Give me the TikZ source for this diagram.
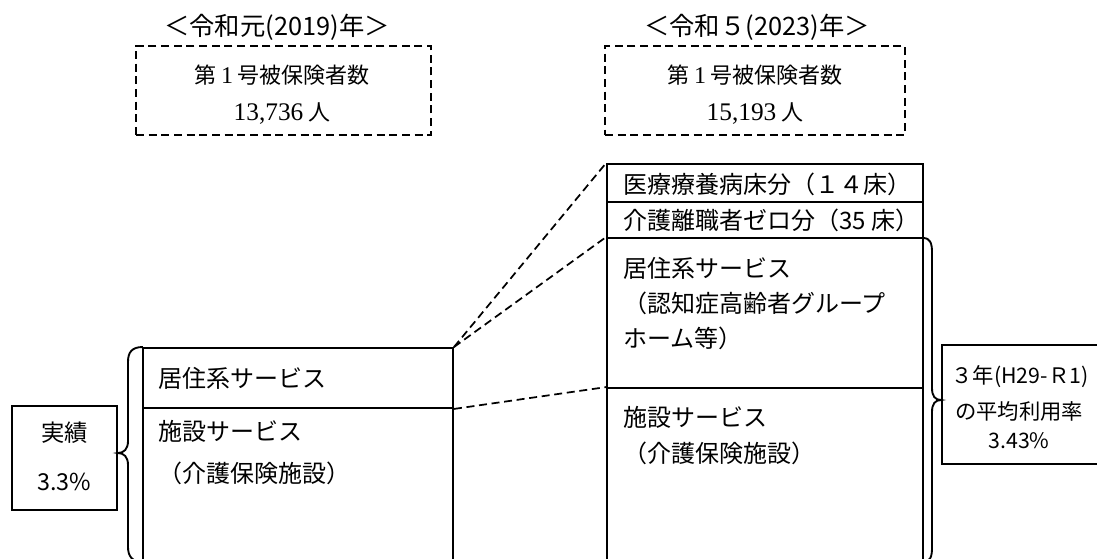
\documentclass[tikz,border=0pt]{standalone}
\usepackage{fontspec}
\setmainfont{Noto Sans CJK JP}
\newfontfamily\serifnum{Liberation Serif}
\usetikzlibrary{fit}
\begin{document}
\begin{tikzpicture}[x=0.75pt,y=-0.75pt,
  box/.style={draw, line width=1.4pt, inner sep=0pt},
  dbox/.style={draw, dash pattern=on 6pt off 3.5pt, line width=1.4pt, inner sep=0pt},
  link/.style={dash pattern=on 6pt off 3.5pt, line width=1.3pt},
  brace/.style={line width=1.4pt},
  title/.style={inner sep=0pt, font=\fontsize{19}{22}\selectfont},
  txt/.style={anchor=west, inner sep=0pt, font=\fontsize{18}{21}\selectfont},
  ctxt/.style={inner sep=0pt, font=\fontsize{17.5}{21}\selectfont},
  dtxt/.style={inner sep=0pt, font=\fontsize{16.5}{19}\selectfont},
  ltxt/.style={inner sep=0pt, font=\fontsize{16}{19}\selectfont}]
\useasboundingbox (0,0) rectangle (1097,558);
\clip (0,0) rectangle (1097,558);

% titles
\node[title] (t1) at (277,27) {＜令和元(2019)年＞};
\node[title] (t2) at (757,27) {＜令和５(2023)年＞};

% dashed boxes
\node[dbox, fit={(136,46) (431,135)}] (d1) {};
\node[dbox, fit={(605,46) (905,135)}] (d2) {};
\node[dtxt] (d1a) at (282,75) {第 {\serifnum\fontsize{18}{19}\selectfont 1} 号被保険者数};
\node[dtxt] (d1b) at (282,114) {{\serifnum\fontsize{19}{19}\selectfont 13,736} 人};
\node[dtxt] (d2a) at (755,75) {第 {\serifnum\fontsize{18}{19}\selectfont 1} 号被保険者数};
\node[dtxt] (d2b) at (755,114) {{\serifnum\fontsize{19}{19}\selectfont 15,193} 人};

% left stack
\node[box, fit={(143,348) (453,408)}] (lres) {};
\node[box, fit={(143,408) (453,600)}] (lfac) {};
\node[txt] (lrest) at (158,378) {居住系サービス};
\node[txt] (lfact) at (158,431) {施設サービス};
\node[txt] (lfacs) at (158,473) {（介護保険施設）};

% actual box
\node[box, fit={(12,406) (117,510)}] (act) {};
\node[ctxt] (acta) at (64.5,433) {実績};
\node[ctxt] (actb) at (64.5,482) {3.3\%};

% right stack
\node[box, fit={(607,164) (923,202)}] (r1) {};
\node[box, fit={(607,202) (923,238)}] (r2) {};
\node[box, fit={(607,238) (923,388)}] (r3) {};
\node[box, fit={(607,388) (923,600)}] (r4) {};
\node[txt] (r1t) at (623,184) {医療療養病床分（１４床）};
\node[txt] (r2t) at (623,220) {介護離職者ゼロ分（35 床）};
\node[txt] (r3a) at (623,268) {居住系サービス};
\node[txt] (r3b) at (623,303) {（認知症高齢者グループ};
\node[txt] (r3c) at (623,338) {ホーム等）};
\node[txt] (r4a) at (623,417) {施設サービス};
\node[txt] (r4b) at (623,453) {（介護保険施設）};

% right label box
\node[box, fit={(942,345) (1110,464)}] (rate) {};
\node[ltxt] (ratea) at (1020,377) {３年(H29-Ｒ1)};
\node[ltxt] (rateb) at (1019,411) {の平均利用率};
\node[ltxt] (ratec) at (1019,441) {3.43\%};

% dashed connectors
\draw[link] (lres.north east) -- (r1.north west);
\draw[link] (lres.north east) -- (r3.north west);
\draw[link] (lres.south east) -- (r4.north west);

% braces
\coordinate (lbt) at (143,347);
\coordinate (lbb) at (143,562);
\coordinate (lbtip) at (act.east |- 0,453);
\draw[brace] (lbt) .. controls (132,347) and (128,352) .. (128,362) -- (128,441)
  .. controls (128,449) and (124,453) .. (lbtip)
  .. controls (124,453) and (128,457) .. (128,465) -- (128,547)
  .. controls (128,556) and (132,562) .. (lbb);
\coordinate (rbt) at (923,238);
\coordinate (rbb) at (923,562);
\coordinate (rbtip) at (rate.west |- 0,400);
\draw[brace] (rbt) .. controls (930,238) and (932,243) .. (932,252) -- (932,388)
  .. controls (932,396) and (935,400) .. (rbtip)
  .. controls (935,400) and (932,404) .. (932,412) -- (932,548)
  .. controls (932,557) and (930,562) .. (rbb);
\end{tikzpicture}
\end{document}
